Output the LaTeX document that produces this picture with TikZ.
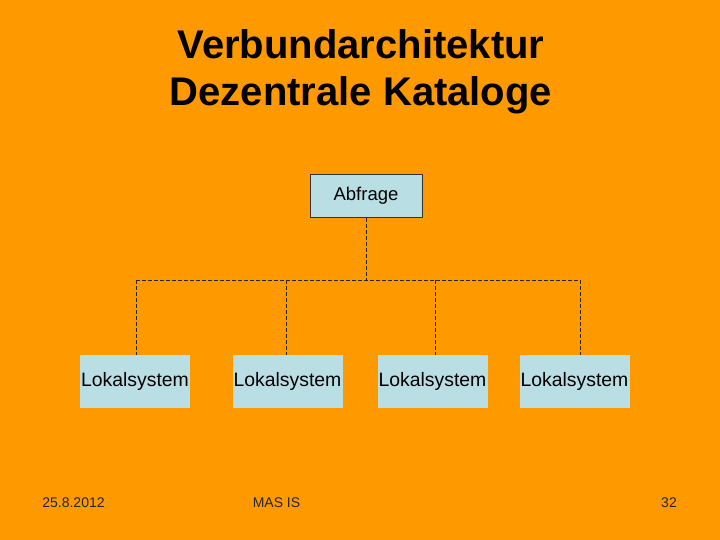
\documentclass[tikz,border=0pt]{standalone}
\usepackage{fontspec}
\setmainfont{Liberation Sans}
\definecolor{slide}{HTML}{FF9900}
\definecolor{boxblue}{HTML}{B9DEE4}
\begin{document}
\begin{tikzpicture}[
        x=1pt, y=-1pt,
        every node/.style={inner sep=0pt},
        query/.style={draw=black!80, fill=boxblue, minimum width=112pt, minimum height=43pt,
                      font=\fontsize{18.5}{22}\selectfont},
        local/.style={fill=boxblue, minimum width=110pt, minimum height=53pt,
                      font=\fontsize{19.4}{23}\selectfont},
        link/.style={black!85, line width=0.8pt, dash pattern=on 4pt off 2pt},
        foot/.style={font=\fontsize{14}{16}\selectfont, black!85}
        ]

        % background
        \fill[slide] (0,0) rectangle (720,540);
        \useasboundingbox (0,0) rectangle (720,540);

        % title
        \node[align=center, font=\bfseries\fontsize{40}{47}\selectfont] (title) at (361,72)
            {Verbundarchitektur\\Dezentrale Kataloge};

        % nodes
        \node[query] (abfrage) at (366,196) {\raisebox{-1.5pt}{Abfrage}};

        \node[local] (l1) at (135,381.5)   {\raisebox{-1.5pt}{Lokalsystem}};
        \node[local] (l2) at (287.5,381.5) {\raisebox{-1.5pt}{Lokalsystem}};
        \node[local] (l3) at (432.5,381.5) {\raisebox{-1.5pt}{Lokalsystem}};
        \node[local] (l4) at (574.5,381.5) {\raisebox{-1.5pt}{Lokalsystem}};

        % branch points
        \coordinate (b1) at (136,280);
        \coordinate (b2) at (286,280);
        \coordinate (b3) at (435,280);
        \coordinate (b4) at (580,280);

        % edges
        \draw[link] (abfrage.south) -- (abfrage.south |- b1);
        \draw[link] (b1) -- (b4);
        \draw[link] (b1) -- (b1 |- l1.north);
        \draw[link] (b2) -- (b2 |- l2.north);
        \draw[link] (b3) -- (b3 |- l3.north);
        \draw[link] (b4) -- (b4 |- l4.north);

        % footer
        \node[foot] (date) at (73.5,503) {25.8.2012};
        \node[foot] (org)  at (276.5,503) {MAS IS};
        \node[foot] (page) at (669,503) {32};

    \end{tikzpicture}
\end{document}
